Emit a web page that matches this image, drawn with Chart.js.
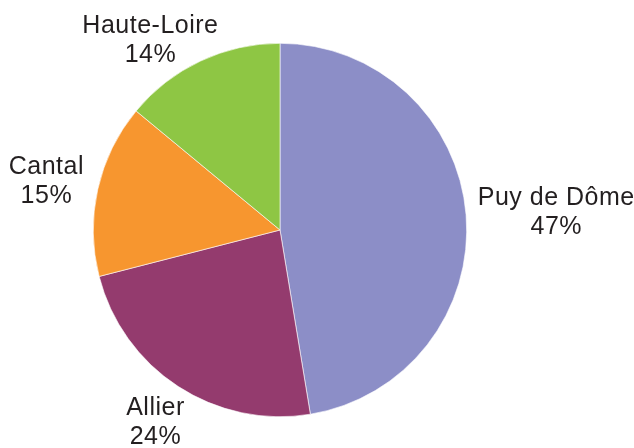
<!DOCTYPE html>
<html>
<head>
<meta charset="utf-8">
<script src="https://cdn.jsdelivr.net/npm/chart.js@4"></script>
<style>
  body { margin: 0; background: #fff; }
  canvas { display: block; }
</style>
</head>
<body>
<canvas id="pie" width="634" height="448"></canvas>
<script>
var departments = ["Puy de Dôme", "Allier", "Cantal", "Haute-Loire"];
var shares = [47.4, 23.6, 15.0, 14.0];
var colors = ["#8C8EC7", "#943B6E", "#F7962F", "#8EC644"];
var labelShiftX = [0, 0, -3, -16];

// draws "name / xx%" outside each slice
var outsideLabels = {
	id: "outsideLabels",
	afterDraw: function(chart) {
		var ctx = chart.ctx;
		var meta = chart.getDatasetMeta(0);
		var total = shares.reduce(function(a, b) { return a + b; }, 0);
		var lineH = 29;
		ctx.save();
		ctx.font = "25px 'Liberation Sans', Arial, sans-serif";
		ctx.letterSpacing = "0.5px";
		ctx.fillStyle = "#231F20";
		ctx.textAlign = "center";
		ctx.textBaseline = "alphabetic";
		meta.data.forEach(function(arc, i) {
			var p = arc.getProps(["x", "y", "startAngle", "endAngle", "outerRadius"], true);
			var mid = (p.startAngle + p.endAngle) / 2;
			var c = Math.cos(mid), s = Math.sin(mid);
			var line1 = departments[i];
			var line2 = Math.round(shares[i] / total * 100) + "%";
			var w = Math.max(ctx.measureText(line1).width, ctx.measureText(line2).width);
			var h = lineH * 2;
			var px = p.x + c * (p.outerRadius + 12);
			var py = p.y + s * (p.outerRadius + 12);
			var cx = px + c * w / 2 + labelShiftX[i];
			var cy = py + s * h / 2;
			var top = Math.max(cy - h / 2, 10);
			ctx.fillText(line1, cx, top + 23);
			ctx.fillText(line2, cx, top + 23 + lineH);
		});
		ctx.restore();
	}
};

new Chart(document.getElementById("pie"), {
	type: "pie",
	data: {
		labels: departments,
		datasets: [{
			data: shares,
			backgroundColor: colors,
			borderColor: "#ffffff",
			borderWidth: 0.6
		}]
	},
	options: {
		responsive: false,
		animation: false,
		layout: { padding: { left: 93, right: 167, top: 43, bottom: 31 } },
		plugins: {
			legend: { display: false },
			tooltip: { enabled: false }
		}
	},
	plugins: [outsideLabels]
});
</script>
</body>
</html>
